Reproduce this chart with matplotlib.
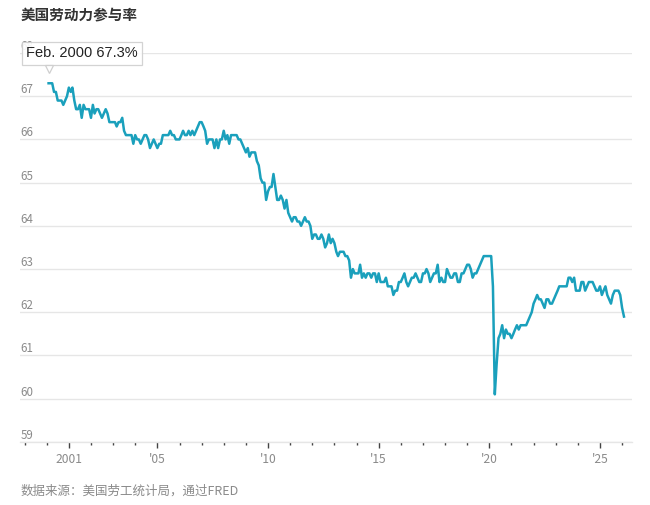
import matplotlib
matplotlib.use('Agg')
import matplotlib.pyplot as plt
import matplotlib.dates as mdates
import matplotlib.transforms as mtransforms
import pandas as pd

plt.rcParams['font.family'] = ['Noto Sans CJK SC', 'DejaVu Sans']

# monthly labour force participation rate, Feb 2000 .. Feb 2026 (%)
rate_2000 = [67.3, 67.3, 67.3, 67.1, 67.1, 66.9, 66.9, 66.9, 66.8, 66.9, 67.0]
rate_2001 = [67.2, 67.1, 67.2, 66.9, 66.7, 66.7, 66.8, 66.5, 66.8, 66.7, 66.7, 66.7]
rate_2002 = [66.5, 66.8, 66.6, 66.7, 66.7, 66.6, 66.5, 66.6, 66.7, 66.6, 66.4, 66.4]
rate_2003 = [66.4, 66.4, 66.3, 66.4, 66.4, 66.5, 66.2, 66.1, 66.1, 66.1, 66.1, 65.9]
rate_2004 = [66.1, 66.0, 66.0, 65.9, 66.0, 66.1, 66.1, 66.0, 65.8, 65.9, 66.0, 65.9]
rate_2005 = [65.8, 65.9, 65.9, 66.1, 66.1, 66.1, 66.1, 66.2, 66.1, 66.1, 66.0, 66.0]
rate_2006 = [66.0, 66.1, 66.2, 66.1, 66.1, 66.2, 66.1, 66.2, 66.1, 66.2, 66.3, 66.4]
rate_2007 = [66.4, 66.3, 66.2, 65.9, 66.0, 66.0, 66.0, 65.8, 66.0, 65.8, 66.0, 66.0]
rate_2008 = [66.2, 66.0, 66.1, 65.9, 66.1, 66.1, 66.1, 66.1, 66.0, 66.0, 65.9, 65.8]
rate_2009 = [65.7, 65.8, 65.6, 65.7, 65.7, 65.7, 65.5, 65.4, 65.1, 65.0, 65.0, 64.6]
rate_2010 = [64.8, 64.9, 64.9, 65.2, 64.9, 64.6, 64.6, 64.7, 64.6, 64.4, 64.6, 64.3]
rate_2011 = [64.2, 64.1, 64.2, 64.2, 64.1, 64.1, 64.0, 64.1, 64.2, 64.1, 64.1, 64.0]
rate_2012 = [63.7, 63.8, 63.8, 63.7, 63.7, 63.8, 63.7, 63.5, 63.6, 63.8, 63.6, 63.7]
rate_2013 = [63.6, 63.4, 63.3, 63.4, 63.4, 63.4, 63.3, 63.3, 63.2, 62.8, 63.0, 62.9]
rate_2014 = [62.9, 62.9, 63.1, 62.8, 62.9, 62.8, 62.9, 62.9, 62.8, 62.9, 62.9, 62.7]
rate_2015 = [62.9, 62.7, 62.7, 62.7, 62.8, 62.6, 62.6, 62.6, 62.4, 62.5, 62.5, 62.7]
rate_2016 = [62.7, 62.8, 62.9, 62.7, 62.6, 62.7, 62.8, 62.8, 62.9, 62.8, 62.7, 62.7]
rate_2017 = [62.9, 62.9, 63.0, 62.9, 62.7, 62.8, 62.9, 62.9, 63.1, 62.7, 62.8, 62.7]
rate_2018 = [62.7, 63.0, 62.9, 62.8, 62.8, 62.9, 62.9, 62.7, 62.7, 62.9, 62.9, 63.0]
rate_2019 = [63.1, 63.1, 63.0, 62.8, 62.9, 62.9, 63.0, 63.1, 63.2, 63.3, 63.3, 63.3]
rate_2020 = [63.3, 63.3, 62.6, 60.1, 60.8, 61.4, 61.5, 61.7, 61.4, 61.6, 61.5, 61.5]
rate_2021 = [61.4, 61.5, 61.6, 61.7, 61.6, 61.7, 61.7, 61.7, 61.7, 61.8, 61.9, 62.0]
rate_2022 = [62.2, 62.3, 62.4, 62.3, 62.3, 62.2, 62.1, 62.3, 62.3, 62.2, 62.2, 62.3]
rate_2023 = [62.4, 62.5, 62.6, 62.6, 62.6, 62.6, 62.6, 62.8, 62.8, 62.7, 62.8, 62.5]
rate_2024 = [62.5, 62.5, 62.7, 62.7, 62.5, 62.6, 62.7, 62.7, 62.7, 62.6, 62.5, 62.5]
rate_2025 = [62.6, 62.4, 62.5, 62.6, 62.4, 62.3, 62.2, 62.4, 62.5, 62.5, 62.5, 62.4]
rate_2026 = [62.1, 61.9]

rates = (rate_2000 + rate_2001 + rate_2002 + rate_2003 + rate_2004 + rate_2005
         + rate_2006 + rate_2007 + rate_2008 + rate_2009 + rate_2010 + rate_2011
         + rate_2012 + rate_2013 + rate_2014 + rate_2015 + rate_2016 + rate_2017
         + rate_2018 + rate_2019 + rate_2020 + rate_2021 + rate_2022 + rate_2023
         + rate_2024 + rate_2025 + rate_2026)
dates = pd.date_range('2000-02-01', periods=len(rates), freq='MS')

y_ticks = [59, 60, 61, 62, 63, 64, 65, 66, 67, 68]
x_tick_years = [2001, 2005, 2010, 2015, 2020, 2025]
x_tick_labels = ['2001', "'05", "'10", "'15", "'20", "'25"]

title = '美国劳动力参与率'
source = '数据来源：美国劳工统计局，通过FRED'
tooltip = 'Feb. 2000 67.3%'

line_color = '#1aa0bc'
grid_color = '#e6e6e6'
label_color = '#8a8a8a'

fig = plt.figure(figsize=(6.5, 5.05), dpi=100)
ax = fig.add_axes([0.031, 0.125, 0.941, 0.77])

ax.plot(dates, rates, color=line_color, linewidth=1.8, solid_joinstyle='round', zorder=3)

ax.set_ylim(59, 68)
ax.set_xlim(pd.Timestamp('1998-10-20'), pd.Timestamp('2026-06-10'))

# horizontal grid + labels sitting on top of each line
ax.set_yticks(y_ticks)
ax.yaxis.grid(True, color=grid_color, linewidth=1)
ax.tick_params(axis='y', length=0, labelleft=False)
for v in y_ticks:
    ax.text(0.0, v, str(v), transform=ax.get_yaxis_transform(),
            ha='left', va='bottom', fontsize=8.3, color=label_color)

ax.set_xticks([pd.Timestamp(f'{y}-01-01') for y in x_tick_years])
ax.set_xticklabels(x_tick_labels)
ax.xaxis.set_minor_locator(mdates.YearLocator(base=1))
ax.tick_params(axis='x', which='major', length=4, width=1, color='#444444',
               labelsize=8.7, labelcolor=label_color, pad=4)
ax.tick_params(axis='x', which='minor', length=2, width=1, color='#444444')

for side in ['top', 'right', 'left']:
    ax.spines[side].set_visible(False)
ax.spines['bottom'].set_color(grid_color)
ax.spines['bottom'].set_linewidth(1)
ax.set_axisbelow(True)

# tooltip for the first point (covers the 68 label, as in the original)
ax.annotate(tooltip, xy=(dates[0], rates[0]), xytext=(24, 21.5),
            textcoords='offset points', ha='center', va='center',
            fontsize=10.5, color='#222222', family=['Liberation Sans', 'DejaVu Sans'],
            bbox=dict(boxstyle='square,pad=0.3', fc='white', ec='#cfcfcf',
                      lw=0.9, alpha=0.9),
            zorder=5)
pointer = mtransforms.offset_copy(ax.transData, fig=fig, x=0, y=10, units='points')
ax.plot([dates[0]], [rates[0]], marker='v', markersize=6, markerfacecolor='white',
        markeredgecolor='#cfcfcf', markeredgewidth=0.9, transform=pointer,
        zorder=6, clip_on=False)

fig.text(0.031, 0.97, title, ha='left', va='center', fontsize=10.5,
         fontweight='bold', color='#333333')
fig.text(0.031, 0.028, source, ha='left', va='center', fontsize=9,
         color='#8a8a8a')

plt.savefig('out.png', dpi=100)
plt.close(fig)
